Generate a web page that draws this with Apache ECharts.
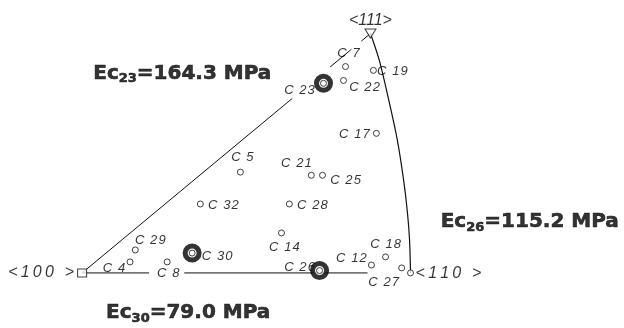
<!DOCTYPE html>
<html>
<head>
<meta charset="utf-8">
<script src="https://cdn.jsdelivr.net/npm/echarts@6/dist/echarts.min.js"></script>
<style>
  html, body { margin: 0; padding: 0; background: #fff; }
  #chart { width: 624px; height: 328px; }
</style>
</head>
<body>
<div id="chart"></div>
<script>
// stereographic triangle, x: <100>=0 -> <110>=1, y: 0 -> <111>=1
const names = ['C7', 'C19', 'C23', 'C22', 'C17', 'C5', 'C21', 'C25', 'C32', 'C28',
               'C14', 'C29', 'C4', 'C30', 'C8', 'C26', 'C12', 'C18', 'C27'];
const xs = [0.802, 0.887, 0.735, 0.796, 0.896, 0.482, 0.698, 0.732, 0.360, 0.631,
            0.607, 0.162, 0.146, 0.335, 0.259, 0.723, 0.881, 0.924, 0.973];
const ys = [0.862, 0.846, 0.792, 0.804, 0.583, 0.421, 0.408, 0.408, 0.288, 0.288,
            0.167, 0.096, 0.046, 0.083, 0.046, 0.010, 0.033, 0.067, 0.021];
const bigRings = ['C23', 'C26', 'C30'];

const poles = ['<100 >', '<110 >', '<111>'];
const poleX = [0, 1, 0.878];
const poleY = [0, 0, 1];

// edges (broken where labels sit on them)
const leftEdge = [[0, 0], [0.64, 0.729], '-', [0.755, 0.86], [0.82, 0.934], '-', [0.85, 0.968], [0.878, 1]];
const bottomEdge = [[0, 0], [0.204, 0], '-', [0.311, 0], [0.869, 0]];
const arcX = [0.878, 0.905, 0.936, 0.960, 0.979, 0.990, 0.997, 1.0];
const arcY = [1.0, 0.8875, 0.708, 0.554, 0.3875, 0.26, 0.1375, 0];

const notes = [['Ec', '23', '=164.3 MPa'], ['Ec', '26', '=115.2 MPa'], ['Ec', '30', '=79.0 MPa']];
const noteX = [0.305, 1.363, 0.323];
const noteY = [0.833, 0.2125, -0.167];

// label offsets (px) for each point label
const labelOffset = {
  C7: [3, -13], C19: [19, 1], C23: [-24, 7], C22: [21, 7], C17: [-22, 1],
  C5: [2, -15], C21: [-15, -12], C25: [23, 5], C32: [23, 1], C28: [23, 1],
  C14: [3, 14], C29: [15, -10], C4: [-16, 6], C30: [25, 3], C8: [1, 11],
  C26: [-20, -3], C12: [-20, -7], C18: [0, -13], C27: [-18, 14]
};
const poleOffset = [[-41, 0], [38, 1], [0, -13]];

const chart = echarts.init(document.getElementById('chart'));

const pts = names.map((n, i) => ({ name: n, value: [xs[i], ys[i]] }));
const hand = { fontFamily: 'Liberation Sans', fontStyle: 'italic', fontSize: 13, color: '#000' };
const bold = { fontFamily: 'DejaVu Sans', fontWeight: 'bold', color: '#000', lineHeight: 24,
               textBorderColor: '#000', textBorderWidth: 0.6 };

chart.setOption({
  animation: false,
  grid: { left: 0, right: 0, top: 0, bottom: 0 },
  xAxis: { type: 'value', min: -0.25, max: 1.65, show: false },
  yAxis: { type: 'value', min: -0.23, max: 1.14, show: false },
  series: [
    {
      type: 'line', data: leftEdge, symbol: 'none', connectNulls: false,
      lineStyle: { color: '#111', width: 1 }, z: 1
    },
    {
      type: 'line', data: bottomEdge, symbol: 'none', connectNulls: false,
      lineStyle: { color: '#111', width: 1 }, z: 1
    },
    {
      type: 'line', data: arcX.map((x, i) => [x, arcY[i]]), symbol: 'none',
      smooth: 0.3,
      lineStyle: { color: '#111', width: 1.2 }, z: 1
    },
    {
      // point labels
      type: 'scatter', symbolSize: 0, z: 2,
      data: pts.map(p => ({
        name: p.name, value: p.value,
        label: { show: true, position: 'inside', offset: labelOffset[p.name] }
      })),
      label: Object.assign({ formatter: p => p.name.replace('C', 'C ').split('').join('\u200a') }, hand)
    },
    {
      type: 'scatter', symbol: 'circle', symbolSize: 14, z: 3,
      data: pts.filter(p => bigRings.indexOf(p.name) >= 0),
      itemStyle: { color: '#fff', borderColor: '#000', borderWidth: 5 }
    },
    {
      type: 'scatter', symbol: 'circle', symbolSize: 6, z: 4,
      data: pts,
      itemStyle: { color: '#fff', borderColor: '#111', borderWidth: 1 }
    },
    {
      // poles
      type: 'scatter', z: 4,
      data: poles.map((p, i) => ({
        name: p, value: [poleX[i], poleY[i]],
        symbol: i === 0 ? 'rect' : (i === 1 ? 'circle' : 'triangle'),
        symbolSize: i === 0 ? [9, 8] : (i === 1 ? 6 : [11, 9]),
        symbolRotate: i === 2 ? 180 : 0,
        label: { show: true, position: 'inside', offset: poleOffset[i] }
      })),
      itemStyle: { color: '#fff', borderColor: '#111', borderWidth: 1 },
      label: Object.assign({}, hand, {
        fontSize: 16,
        formatter: p => p.dataIndex === 2 ? p.name : p.name.split('').join('\u2009')
      })
    },
    {
      // modulus notes
      type: 'scatter', symbolSize: 0, z: 5,
      data: notes.map((t, i) => ({ name: t.join(''), value: [noteX[i], noteY[i]] })),
      label: {
        show: true, position: 'inside',
        formatter: p => '{b|' + notes[p.dataIndex][0] + '}{s|' + notes[p.dataIndex][1] + '}{b|' + notes[p.dataIndex][2] + '}',
        rich: {
          b: Object.assign({ fontSize: 20 }, bold),
          s: Object.assign({ fontSize: 13, verticalAlign: 'bottom', padding: [8, 0, 0, 0] }, bold)
        }
      }
    }
  ]
});
</script>
</body>
</html>
